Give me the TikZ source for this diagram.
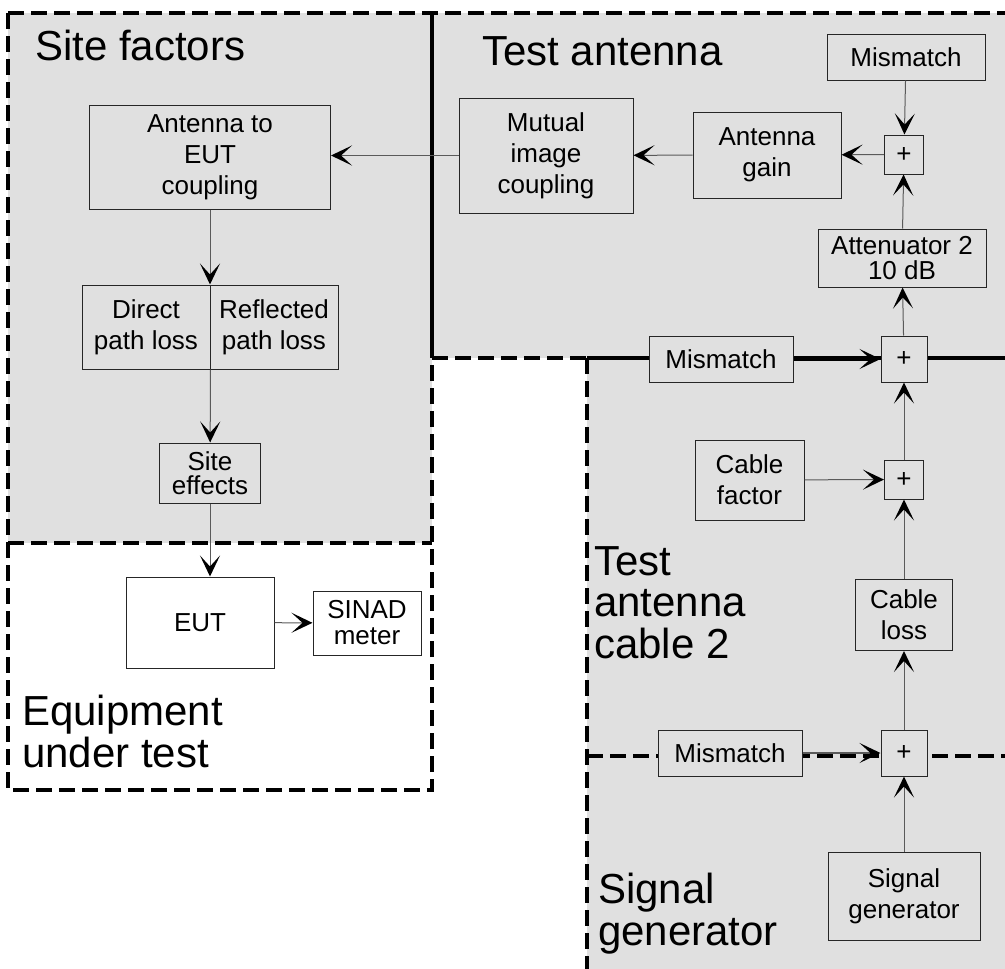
\documentclass[tikz,border=0pt]{standalone}
\usepackage{fontspec}
\setmainfont{Liberation Sans}
\usepackage{tikz}
\usetikzlibrary{arrows.meta}
\definecolor{regiongray}{RGB}{224,224,224}
\definecolor{linegray}{RGB}{90,90,90}

\begin{document}
\begin{tikzpicture}[x=1pt, y=-1pt,
    block/.style={draw=black!85, line width=1pt, fill=regiongray, inner sep=0pt, align=center,
        font=\fontsize{26}{31}\selectfont},
    sumbox/.style={block, minimum width=39pt, minimum height=39pt},
    bigsum/.style={block, minimum width=46pt, minimum height=46pt},
    title/.style={anchor=base west, inner sep=0pt, align=left, font=\fontsize{42}{41.5}\selectfont},
    flow/.style={draw=linegray, line width=1pt,
        -{Stealth[length=21pt, width=20pt, inset=11pt, color=black, line width=2pt]}},
    thickflow/.style={flow, draw=black, line width=4pt},
    border/.style={line width=3.5pt, dash pattern=on 16pt off 7pt}]

    \useasboundingbox (0,0) rectangle (1005,969);

    % Fill the regions
    \fill[regiongray] (8,13) rectangle (432,543);
    \fill[regiongray] (432,13) rectangle (1005,358);
    \fill[regiongray] (587,358) rectangle (1005,969);

    % Region borders
    \draw[border] (8,13) -- (1005,13);
    \draw[border] (8,13) -- (8,790) -- (432,790) -- (432,358);
    \draw[border] (8,543) -- (432,543);
    \draw[line width=3.5pt] (432,13) -- (432,358);
    \draw[border] (432,358) -- (587,358);
    \draw[border] (587,358) -- (587,969);
    \draw[border] (587,756) -- (1005,756);
    \draw[line width=4pt] (587,358) -- (1005,358);

    % Region titles (base is the last line)
    \node[title] (sitetitle) at (35,60) {Site factors};
    \node[title] (anttitle) at (482,65) {Test antenna};
    \node[title] (euttitle) at (22,767) {Equipment\\under test};
    \node[title] (cabletitle) at (594,658) {Test\\antenna\\cable 2};
    \node[title] (gentitle) at (598,945) {Signal\\generator};

    % Test antenna blocks
    \node[block, minimum width=158pt, minimum height=46pt] (mm1) at (906,57) {Mismatch};
    \node[sumbox] (plus1) at (904,154.5) {+};
    \node[block, minimum width=148pt, minimum height=86pt] (gain) at (767,155) {Antenna\\gain};
    \node[block, minimum width=174pt, minimum height=115pt] (mutual) at (546,155.5) {Mutual\\image\\coupling};
    \node[block, minimum width=168pt, minimum height=58pt, font=\fontsize{26}{25}\selectfont] (att) at (902,258) {Attenuator 2\\10 dB};

    % Site factor blocks
    \node[block, minimum width=241pt, minimum height=104pt] (coupling) at (210,157) {Antenna to\\EUT\\coupling};
    \node[block, minimum width=128pt, minimum height=84pt] (direct) at (146,327) {Direct\\path loss};
    \node[block, minimum width=128pt, minimum height=84pt] (reflected) at (274,327) {Reflected\\path loss};
    \node[block, minimum width=101pt, minimum height=60pt, font=\fontsize{26}{24}\selectfont] (sitefx) at (210,473) {Site\\effects};

    % Equipment under test blocks
    \node[block, fill=white, minimum width=148pt, minimum height=91pt] (eut) at (200,622.5) {EUT};
    \node[block, fill=white, minimum width=108pt, minimum height=64pt, font=\fontsize{26}{26}\selectfont] (sinad) at (367,623) {SINAD\\meter};

    % Cable and generator blocks
    \node[block, minimum width=144pt, minimum height=46pt] (mm2) at (721,359) {Mismatch};
    \node[bigsum] (plus2) at (904,359) {+};
    \node[block, minimum width=109pt, minimum height=80pt] (cfactor) at (749.5,480) {Cable\\factor};
    \node[sumbox] (plus3) at (904,479.5) {+};
    \node[block, minimum width=97pt, minimum height=71pt] (closs) at (904,615) {Cable\\loss};
    \node[block, minimum width=144pt, minimum height=46pt] (mm3) at (730,753) {Mismatch};
    \node[bigsum] (plus4) at (904,753) {+};
    \node[block, minimum width=152pt, minimum height=88pt] (siggen) at (904,896) {Signal\\generator};

    % Signal path
    \draw[flow] (siggen) -- (plus4);
    \draw[flow, line width=2pt] (mm3) -- (plus4);
    \draw[flow] (plus4) -- (closs);
    \draw[flow] (closs) -- (plus3);
    \draw[flow] (cfactor) -- (plus3);
    \draw[flow] (plus3) -- (plus2);
    \draw[thickflow] (mm2) -- (plus2);
    \draw[flow] (plus2) -- (att);
    \draw[flow] (att) -- (plus1);
    \draw[flow] (mm1) -- (plus1);
    \draw[flow] (plus1) -- (gain);
    \draw[flow] (gain) -- (mutual);
    \draw[flow] (mutual.west) -- (mutual.west -| coupling.east);
    \draw[flow] (coupling) -- (coupling.south |- direct.north);
    \draw[flow] (direct.south east) -- (sitefx);
    \draw[flow] (sitefx) -- (sitefx.south |- eut.north);
    \draw[flow] (eut) -- (sinad);

\end{tikzpicture}
\end{document}
